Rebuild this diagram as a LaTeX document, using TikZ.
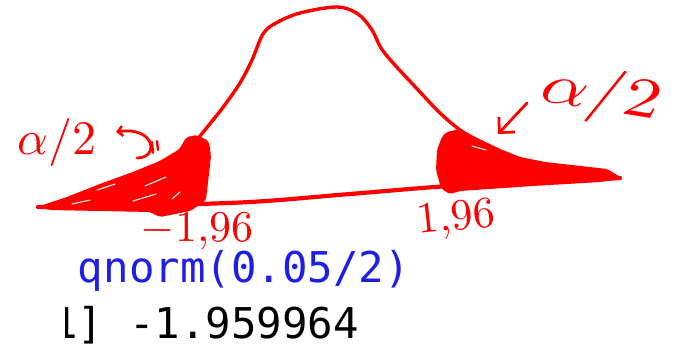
\documentclass[tikz,border=0pt]{standalone}
\usepackage{fontspec}
\newfontfamily\codefont{DejaVu Sans Mono}
\usetikzlibrary{arrows.meta}
\definecolor{ink}{RGB}{255,0,0}
\definecolor{codeblue}{RGB}{30,30,235}
\tikzset{
  pen/.style={draw=ink, line width=3.4pt, line cap=round, line join=round},
  shade/.style={fill=ink, draw=ink, line width=2pt, line join=round, rounded corners=2pt},
  streak/.style={draw=white, line width=1pt, line cap=round},
  handsmall/.style={text=ink, inner sep=0pt, scale=4.8, transform shape},
  handbig/.style={text=ink, inner sep=0pt, scale=5.6, xscale=1.3, transform shape},
  handnum/.style={text=ink, inner sep=0pt, scale=4.4, transform shape},
  code/.style={anchor=base west, inner sep=0pt, font=\codefont\fontsize{42.4}{50}\selectfont},
  barb/.style={pen, line width=2.8pt, -{Straight Barb[length=11pt,width=22pt,line width=2.8pt]}},
}
\begin{document}
\begin{tikzpicture}[x=1pt,y=-1pt]
\useasboundingbox (0,0) rectangle (679,344);

% baseline
\draw[pen, line width=4.2pt] plot[smooth, tension=0.6] coordinates
  {(38,207) (150,205) (250,202) (350,194) (450,186) (533,183) (620,178)};

% bell curve
\draw[pen] plot[smooth, tension=0.55] coordinates
  {(196,141) (213,120) (224,106) (240,83) (252,60) (263,34) (276,23) (300,13) (337,7)
   (358,14) (372,30) (381,48) (394,64) (420,92) (440,113) (460,130) (480,142)};

% left shaded tail
\path[shade] (40,207) -- (67,198) -- (100,185) -- (133,173) -- (160,162) -- (180,150)
  -- (187,138) -- (197,136) -- (208,142) -- (210,156) -- (205,200) -- (190,210)
  -- (160,216) -- (150,211) -- (100,210) -- (50,209) -- cycle;
\draw[streak] (72,204) -- (90,200);
\draw[streak] (97,190) -- (115,184);
\draw[streak] (145,186) -- (166,177);
\draw[streak] (133,201) -- (156,194);
\draw[streak] (172,199) -- (180,192);

% right shaded tail
\path[shade] (443,137) -- (447,133) -- (460,130) -- (475,138) -- (500,150) -- (520,158)
  -- (545,163) -- (607,170) -- (620,178) -- (600,181) -- (533,185) -- (460,190)
  -- (450,193) -- (442,188) -- (437,170) -- (438,150) -- cycle;
\draw[streak] (472,146) -- (486,150);

% labels and arrows
\node[handsmall] (aleft) at (57,143) {$\alpha/2$};
\coordinate (lstart) at (137,158);
\coordinate (ltip) at (116,132);
\draw[pen, line width=2.8pt, -{Straight Barb[length=5pt,width=10pt,line width=2.4pt]}]
  (lstart) .. controls (160,158) and (155,126) .. (ltip);
\draw[pen, line width=2.4pt] (152,142) -- (153,153);
\draw[pen, line width=2.4pt] (157,141) -- (158,150);

\node[handbig, rotate=-12] (aright) at (601,96) {$\alpha/2$};
\coordinate (rstart) at (527,103);
\coordinate (rtip) at (498,134);
\draw[barb] (rstart) -- (rtip);

\node[handnum] (nleft) at (197,232) {$-1{,}96$};
\node[handnum, rotate=6] (nright) at (456,220) {$1{,}96$};

% R console text
\begin{scope}
\clip (65,240) rectangle (679,344);
\node[code, text=codeblue] (cmd) at (77.75,283) {qnorm(0.05/2)};
\node[code, text=black] (res) at (52.25,338) {1] -1.959964};
\end{scope}
\end{tikzpicture}
\end{document}
